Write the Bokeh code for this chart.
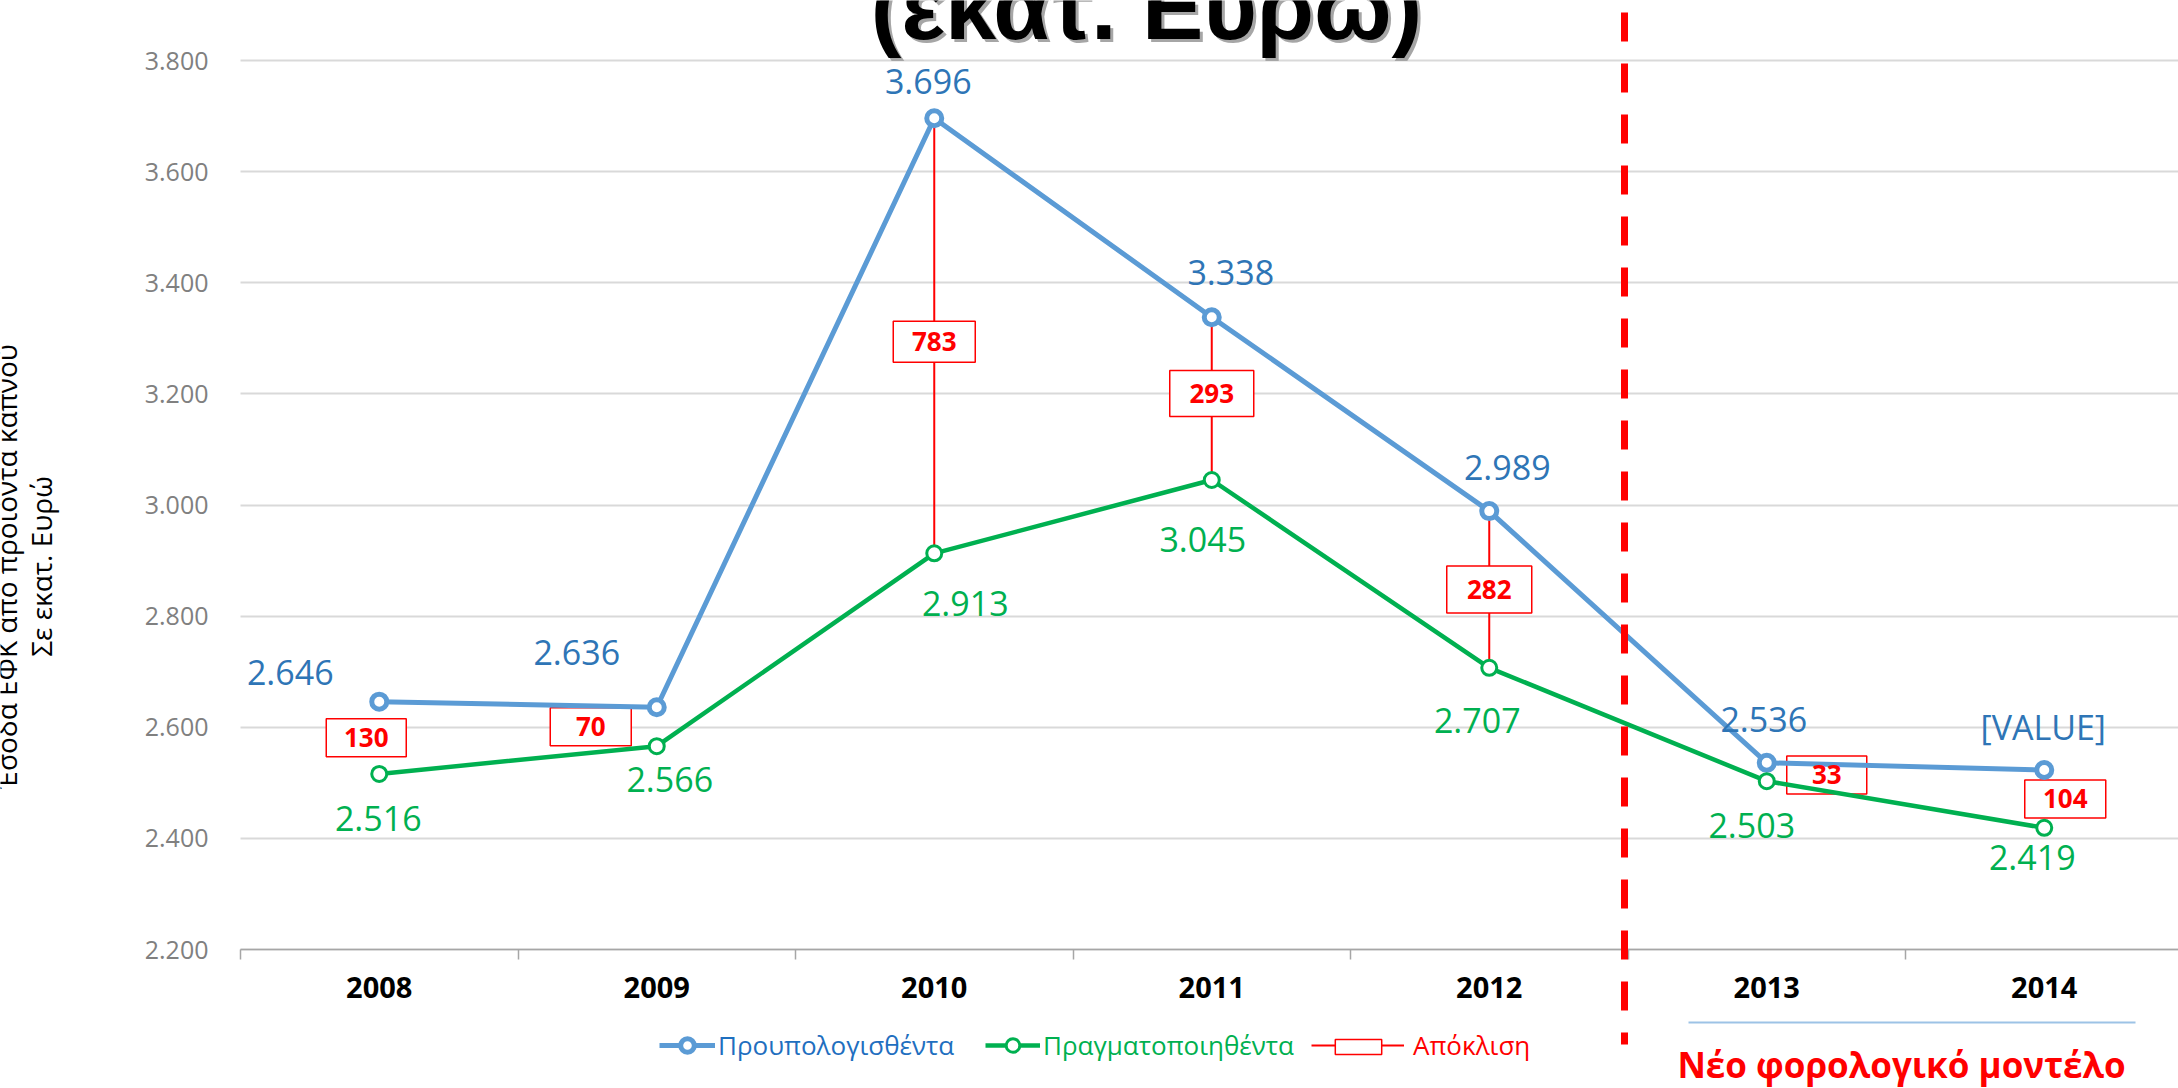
import math
from bokeh.plotting import figure
from bokeh.models import (Range1d, FixedTicker, ColumnDataSource, Label, Arrow,
                          Legend, LegendItem)
from bokeh.core.properties import value
from bokeh.embed import file_html
from bokeh.resources import INLINE

# ---------------- data ----------------
years = ["2008", "2009", "2010", "2011", "2012", "2013", "2014"]
budgeted = [2646, 2636, 3696, 3338, 2989, 2536, 2523]   # Προυπολογισθέντα
actual = [2516, 2566, 2913, 3045, 2707, 2503, 2419]     # Πραγματοποιηθέντα
deviation = [130, 70, 783, 293, 282, 33, 104]           # Απόκλιση
budget_labels = ["2.646", "2.636", "3.696", "3.338", "2.989", "2.536", "[VALUE]"]
actual_labels = ["2.516", "2.566", "2.913", "3.045", "2.707", "2.503", "2.419"]
y_ticks = [2200, 2400, 2600, 2800, 3000, 3200, 3400, 3600, 3800]

# ---------------- layout / style ----------------
W, H = 2178, 1088
PL, PT, PB = 240, 60, 949          # data-area left / top / bottom (px)
Y0, Y1 = 2200, 3800
BAND = 277.5
PPU = (PB - PT) / (Y1 - Y0)
X0 = -0.5
XL = X0 - PL / BAND
XR = X0 + (W - PL) / BAND
YT = Y1 + PT / PPU
YB = Y0 - (H - PB) / PPU

BLUE = "#5B9BD5"
BLUE_TXT = "#2E75B6"
GREEN = "#00B050"
RED = "#FF0000"
FONT = "Open Sans"

# label offsets in screen px (x right, y down)
b_dx = [-89, -80, -6, 19, 18, -3, -1]
b_dy = [-29, -55, -37, -45, -44, -43, -43]
g_dx = [-1, 13, 31, -9, -12, -15, -12]
g_dy = [45, 33, 50, 60, 53, 44, 30]
box_dx = [-13, -66, 0, 0, 0, 60, 21]
box_dy = [0, 0, 6, -5, 0, 3, 0]
box_w = [80, 81, 82, 84, 85, 80, 81]
box_h = [38, 38, 41, 46, 47, 38, 38]

xs = list(range(len(years)))

p = figure(width=W, height=H, x_range=Range1d(XL, XR), y_range=Range1d(YB, YT),
           output_backend="svg", toolbar_location=None,
           min_border=0, min_border_left=0, min_border_right=0, min_border_top=0, min_border_bottom=0,
           outline_line_color=None, background_fill_color="white", border_fill_color="white")

# x axis (fixed at the bottom of the data area)
p.xaxis.fixed_location = Y0
p.xaxis.bounds = (X0, XR)
p.xaxis.ticker = FixedTicker(ticks=xs, minor_ticks=[i - 0.5 for i in range(len(years) + 1)])
p.xaxis.major_label_overrides = {i: y for i, y in enumerate(years)}
p.xaxis.major_tick_line_color = None
p.xaxis.major_tick_out = 0
p.xaxis.major_tick_in = 0
p.xaxis.minor_tick_line_color = "#a6a6a6"
p.xaxis.minor_tick_line_width = 1.5
p.xaxis.minor_tick_out = 10
p.xaxis.minor_tick_in = 0
p.xaxis.axis_line_color = "#a6a6a6"
p.xaxis.axis_line_width = 1.5
p.xaxis.major_label_text_font = FONT
p.xaxis.major_label_text_font_style = "bold"
p.xaxis.major_label_text_font_size = "29px"
p.xaxis.major_label_text_color = "black"
p.xaxis.major_label_standoff = 17

# y axis (fixed at the left of the data area)
p.yaxis.fixed_location = X0
p.yaxis.bounds = (Y0, Y1)
p.yaxis.ticker = FixedTicker(ticks=y_ticks)
p.yaxis.major_label_overrides = {v: f"{v:,}".replace(",", ".") for v in y_ticks}
p.yaxis.axis_line_color = None
p.yaxis.major_tick_line_color = None
p.yaxis.minor_tick_line_color = None
p.yaxis.major_label_text_font = FONT
p.yaxis.major_label_text_font_size = "25px"
p.yaxis.major_label_text_color = "#808080"
p.yaxis.major_label_standoff = 26

p.xgrid.visible = False
p.ygrid.grid_line_color = "#d9d9d9"
p.ygrid.grid_line_width = 2
p.ygrid.bounds = (Y0, Y1)
p.ygrid.cross_bounds = (X0, XR)

# connectors (only where the deviation box is aligned with the year)
ci = [i for i in xs if box_dx[i] == 0]
conn = p.segment(x0=[xs[i] for i in ci], y0=[budgeted[i] for i in ci],
                 x1=[xs[i] for i in ci], y1=[actual[i] for i in ci],
                 line_color=RED, line_width=2)

# deviation boxes
mid = [(b + a) / 2 for b, a in zip(budgeted, actual)]
box_src = ColumnDataSource(dict(
    bx=[x + dx / BAND for x, dx in zip(xs, box_dx)],
    by=[m - dy / PPU for m, dy in zip(mid, box_dy)],
    w=box_w, h=box_h, t=[str(d) for d in deviation]))
box = p.rect(x="bx", y="by", width="w", height="h", width_units="screen", height_units="screen",
             fill_color="white", line_color=RED, line_width=1.5, source=box_src)

# series
bl = p.line(xs, budgeted, line_color=BLUE, line_width=5, line_join="round")
gl = p.line(xs, actual, line_color=GREEN, line_width=4.5, line_join="round")
bm = p.scatter(xs, budgeted, marker="circle", size=15, line_color=BLUE, line_width=5, fill_color="white")
gm = p.scatter(xs, actual, marker="circle", size=15, line_color=GREEN, line_width=3, fill_color="white")

p.text(x="bx", y="by", text="t", source=box_src, text_align="center", text_baseline="middle",
       text_font=value(FONT), text_font_style="bold", text_font_size="26px", text_color=RED)

p.text(x=xs, y=budgeted, text=budget_labels, x_offset=b_dx, y_offset=b_dy,
       text_align="center", text_baseline="middle", text_font=value(FONT),
       text_font_size="34px", text_color=BLUE_TXT)
p.text(x=xs, y=actual, text=actual_labels, x_offset=g_dx, y_offset=g_dy,
       text_align="center", text_baseline="middle", text_font=value(FONT),
       text_font_size="34px", text_color=GREEN)

# title (cut off at the top)
p.add_layout(Label(x=1149, y=1079, x_units="screen", y_units="screen", text="(εκατ. Ευρώ)",
                   text_align="center", text_baseline="alphabetic", text_font="Liberation Sans",
                   text_font_style="bold", text_font_size="92px", text_color="#a6a6a6"))
p.add_layout(Label(x=1146, y=1082, x_units="screen", y_units="screen", text="(εκατ. Ευρώ)",
                   text_align="center", text_baseline="alphabetic", text_font="Liberation Sans",
                   text_font_style="bold", text_font_size="92px", text_color="black"))

# y axis title (two lines, rotated)
p.add_layout(Label(x=5, y=522, x_units="screen", y_units="screen",
                   text="Έσοδα ΕΦΚ από προϊόντα καπνού", angle=math.pi / 2,
                   text_align="center", text_baseline="middle", text_font=FONT,
                   text_font_size="28px", text_color="black"))
p.add_layout(Label(x=40, y=522, x_units="screen", y_units="screen",
                   text="Σε εκατ. Ευρώ", angle=math.pi / 2,
                   text_align="center", text_baseline="middle", text_font=FONT,
                   text_font_size="28px", text_color="black"))

# red dashed separator
p.add_layout(Arrow(end=None, x_start=1624, y_start=1076, x_end=1624, y_end=44,
                   start_units="screen", end_units="screen",
                   line_color=RED, line_width=7, line_dash="29 22"))
# light blue underline under 2013-2014
p.add_layout(Arrow(end=None, x_start=1688, y_start=66, x_end=2135, y_end=66,
                   start_units="screen", end_units="screen",
                   line_color="#9DC3E6", line_width=2))
p.add_layout(Label(x=1901, y=24, x_units="screen", y_units="screen",
                   text="Νέο φορολογικό μοντέλο", text_align="center", text_baseline="alphabetic",
                   text_font=FONT, text_font_style="bold", text_font_size="35px", text_color=RED))

# legends
common = dict(padding=0, margin=0, spacing=0, border_line_alpha=0, background_fill_alpha=0,
              label_text_font=FONT, label_text_font_size="26px", orientation="horizontal")
p.add_layout(Legend(items=[LegendItem(label="Προυπολογισθέντα", renderers=[bl, bm])],
                    location=(659, 25), glyph_width=56, glyph_height=34, label_height=34,
                    label_standoff=3, label_text_color="#1F6FBF", **common))
p.add_layout(Legend(items=[LegendItem(label="Πραγματοποιηθέντα", renderers=[gl, gm])],
                    location=(985, 25), glyph_width=55, glyph_height=34, label_height=34,
                    label_standoff=3, label_text_color=GREEN, **common))
p.add_layout(Legend(items=[LegendItem(label="Απόκλιση", renderers=[conn])],
                    location=(1311, 25), glyph_width=93, glyph_height=34, label_height=34,
                    label_standoff=9, label_text_color=RED, **common))
c2 = dict(common)
c2["label_text_font_size"] = "1px"
p.add_layout(Legend(items=[LegendItem(label="Απόκλιση", renderers=[box])],
                    location=(1329, 32.5), glyph_width=58, glyph_height=19, label_height=19,
                    label_standoff=0, label_text_alpha=0, **c2))

open("out.html", "w").write(file_html(p, INLINE))
